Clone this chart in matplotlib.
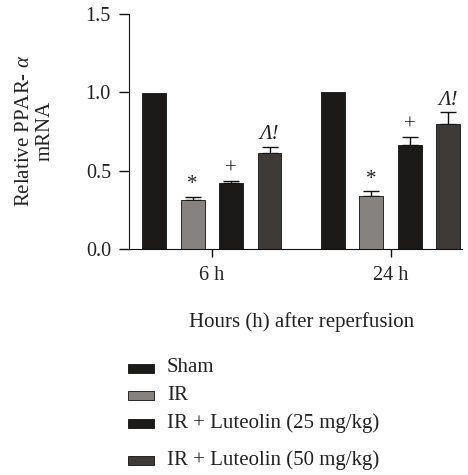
import numpy as np
import matplotlib.pyplot as plt
from matplotlib.patches import Rectangle

plt.rcParams['font.family'] = ['Liberation Serif', 'DejaVu Serif']
plt.rcParams['mathtext.fontset'] = 'custom'
plt.rcParams['mathtext.rm'] = 'Liberation Serif'
plt.rcParams['mathtext.it'] = 'Liberation Serif:italic'

# datos
horas = ['6 h', '24 h']
grupos = ['Sham', 'IR', 'IR + Luteolin (25 mg/kg)', 'IR + Luteolin (50 mg/kg)']
medias = {
    'Sham': [0.995, 1.0],
    'IR': [0.313, 0.336],
    'IR + Luteolin (25 mg/kg)': [0.421, 0.666],
    'IR + Luteolin (50 mg/kg)': [0.615, 0.796],
}
errores = {
    'Sham': [0.0, 0.0],
    'IR': [0.02, 0.034],
    'IR + Luteolin (25 mg/kg)': [0.015, 0.047],
    'IR + Luteolin (50 mg/kg)': [0.038, 0.076],
}
marcas = {
    'Sham': ['', ''],
    'IR': ['*', '*'],
    'IR + Luteolin (25 mg/kg)': ['+', '+'],
    'IR + Luteolin (50 mg/kg)': ['Λ!', 'Λ!'],
}
colores = ['#1c1a18', '#86827f', '#1c1a18', '#3d3a37']

fig = plt.figure(figsize=(4.68, 4.75), dpi=100)
ax = fig.add_axes([129/468, 1 - 249/475, 333/468, 235/475])

x = np.arange(len(horas))
ancho = 0.134
paso = 0.215
for i, g in enumerate(grupos):
    pos = x + (i - 1.5) * paso
    ax.bar(pos, medias[g], ancho, color=colores[i], edgecolor='#111111', linewidth=0.6, zorder=2)
    err = np.array(errores[g])
    if err.any():
        ax.errorbar(pos, medias[g], yerr=[np.zeros_like(err), err], fmt='none',
                    ecolor='#111111', elinewidth=1.0, capsize=6, capthick=1.0, zorder=1)
    for p, m, e, t in zip(pos, medias[g], err, marcas[g]):
        if t:
            estilo = 'italic' if 'Λ' in t else 'normal'
            ax.text(p, m + e + 0.015, t, ha='center', va='bottom', fontsize=15,
                    color='#222222', fontstyle=estilo)

ax.set_ylim(0, 1.5)
ax.set_xlim(-0.464, 1.40)
ax.set_yticks([0, 0.5, 1.0, 1.5])
ax.set_yticklabels(['0.0', '0.5', '1.0', '1.5'])
ax.set_xticks(x)
ax.set_xticklabels(horas)
ax.tick_params(axis='both', labelsize=14.5, length=7, width=1, color='#111111', labelcolor='#222222')
ax.tick_params(axis='x', pad=6, length=6)
ax.tick_params(axis='y', pad=6)
ax.spines['top'].set_visible(False)
ax.spines['right'].set_visible(False)
ax.spines['left'].set_color('#111111')
ax.spines['bottom'].set_color('#111111')

fig.text(35/468, 1 - 131/475, 'Relative PPAR- $\\alpha$\nmRNA', rotation=90, ha='center', va='center',
         fontsize=15, color='#222222', linespacing=1.1)
fig.text(302/468, 1 - 322/475, 'Hours (h) after reperfusion', ha='center', va='center',
         fontsize=15, color='#222222')

# leyenda a mano, con el espaciado desigual del original
filas_y = [368, 395, 423, 460]
for c, g, yy in zip(colores, grupos, filas_y):
    fig.add_artist(Rectangle((128/468, 1 - (yy + 4.5)/475), 26/468, 9/475, transform=fig.transFigure,
                             facecolor=c, edgecolor='#111111', linewidth=0.6))
    fig.text(167/468, 1 - yy/475, g, ha='left', va='center', fontsize=15, color='#222222')

fig.savefig('out.png', dpi=100)
